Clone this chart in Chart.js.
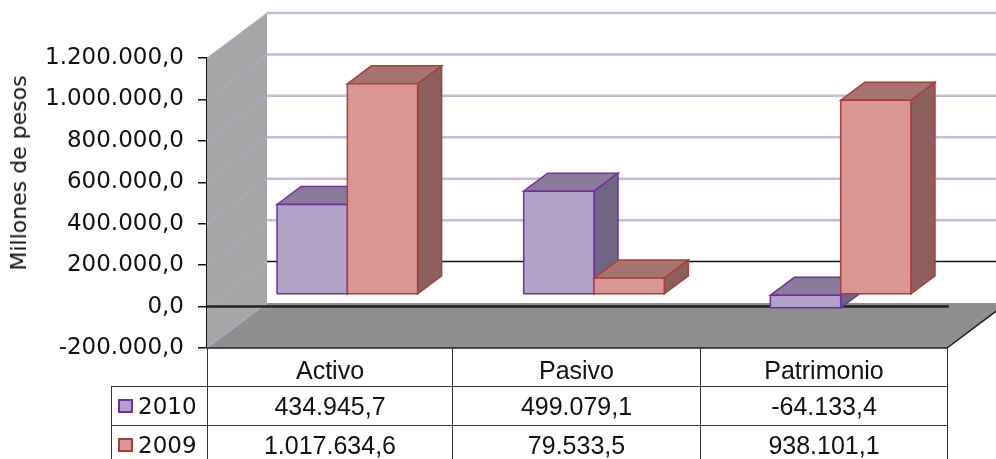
<!DOCTYPE html>
<html>
<head>
<meta charset="utf-8">
<script src="https://cdn.jsdelivr.net/npm/chart.js@4.4.1/dist/chart.umd.min.js"></script>
<style>
  body { margin: 0; background: #fff; }
  #wrap { position: relative; width: 996px; height: 459px; overflow: hidden; }
  #ytitle {
    position: absolute; left: 19px; top: 173px;
    transform: translate(-50%, -50%) rotate(-90deg);
    font: 22px "DejaVu Sans", sans-serif; color: #111; white-space: nowrap; line-height: 22px;
  }
  #tbl {
    position: absolute; left: 111px; top: 348px;
    border-collapse: collapse; table-layout: fixed;
    font: 25px "Liberation Sans", Arial, sans-serif; color: #111;
  }
  #tbl td { border: 1.5px solid #333; height: 38px; padding: 0; text-align: center; }
  #tbl tr.head td { border-top: none; height: 32px; padding-top: 6px; }
  #tbl tr.head td.blank { border: none; border-bottom: 1.5px solid #333; }
  #tbl td.key { text-align: left; padding-left: 6px; font: 23px "DejaVu Sans", sans-serif; }
  .sw { display: inline-block; width: 11px; height: 10px; border: 2px solid; margin-right: 5px; vertical-align: 1px; }
</style>
</head>
<body>
<div id="wrap">
  <canvas id="chart"></canvas>
  <div id="ytitle">Millones de pesos</div>
  <table id="tbl">
    <colgroup><col style="width:96px"><col style="width:245px"><col style="width:248px"><col style="width:247px"></colgroup>
    <tbody id="tbody"></tbody>
  </table>
</div>
<script>
const categories = ["Activo", "Pasivo", "Patrimonio"];
const years = ["2010", "2009"];
const values2010 = [434945.7, 499079.1, -64133.4];
const values2009 = [1017634.6, 79533.5, 938101.1];
const yMin = -200000, yMax = 1200000, yStep = 200000;

const faces = [
  { front: "#b3a2c7", top: "#8a7b9b", side: "#6f6482", line: "#7030a0" },
  { front: "#d99694", top: "#a6736f", side: "#8c5f5d", line: "#a5403d" }
];

// wall depth, bar position inside the box, bar depth
const WX = 60, WY = -45;
const BX = 17, BY = -12;
const DX = 24, DY = -18;

function fmt(v){
  const parts = Math.abs(v).toFixed(1).split(".");
  const ints = parts[0].replace(/\B(?=(\d{3})+(?!\d))/g, ".");
  return (v < 0 ? "-" : "") + ints + "," + parts[1];
}

function poly(ctx, pts, fill, stroke){
  ctx.beginPath();
  ctx.moveTo(pts[0][0], pts[0][1]);
  for(let i = 1; i < pts.length; i++) ctx.lineTo(pts[i][0], pts[i][1]);
  ctx.closePath();
  ctx.fillStyle = fill;
  ctx.fill();
  if(stroke){
    ctx.strokeStyle = stroke;
    ctx.lineWidth = 1.5;
    ctx.stroke();
  }
}

const box3d = {
  id: "box3d",
  beforeDatasetsDraw(chart){
    const ctx = chart.ctx;
    const a = chart.chartArea;
    const y = chart.scales.y;
    const L = a.left, R = a.right, T = a.top, B = a.bottom;
    ctx.save();
    // side wall and floor
    poly(ctx, [[L, T], [L + WX, T + WY], [L + WX, B + WY], [L, B]], "#a6a6a6");
    poly(ctx, [[L, B], [R, B], [R + WX, B + WY], [L + WX, B + WY]], "#8f8f8f");

    // grid on side wall and back wall
    y.ticks.forEach(t => {
      const yy = y.getPixelForValue(t.value);
      ctx.lineWidth = 1;
      ctx.strokeStyle = "rgba(185,165,225,0.85)";
      ctx.beginPath();
      ctx.moveTo(L, yy);
      ctx.lineTo(L + WX, yy + WY);
      ctx.stroke();
      if(t.value == yMin) return;
      ctx.lineWidth = t.value == 0 ? 1.5 : 2.5;
      ctx.strokeStyle = t.value == 0 ? "#111" : "#c6b9dd";
      ctx.beginPath();
      ctx.moveTo(L + WX, yy + WY);
      ctx.lineTo(R + WX, yy + WY);
      ctx.stroke();
    });

    // floor edges
    ctx.strokeStyle = "#222";
    ctx.lineWidth = 1.5;
    ctx.beginPath();
    ctx.moveTo(L, B);
    ctx.lineTo(R, B);
    ctx.lineTo(R + WX, B + WY);
    ctx.stroke();

    // front zero line
    const y0 = y.getPixelForValue(0);
    ctx.lineWidth = 2.5;
    ctx.beginPath();
    ctx.moveTo(L, y0);
    ctx.lineTo(R + 2, y0);
    ctx.stroke();
    ctx.restore();
  },
  afterDatasetsDraw(chart){
    const ctx = chart.ctx;
    ctx.save();
    for(let j = 0; j < categories.length; j++){
      for(let i = 0; i < chart.data.datasets.length; i++){
        const bar = chart.getDatasetMeta(i).data[j];
        const p = bar.getProps(["x", "y", "base", "width"], true);
        const c = faces[i];
        const l = p.x - p.width / 2 + BX, r = p.x + p.width / 2 + BX;
        const t = Math.min(p.y, p.base) + BY, b = Math.max(p.y, p.base) + BY;
        poly(ctx, [[l, t], [l + DX, t + DY], [r + DX, t + DY], [r, t]], c.top, c.line);
        poly(ctx, [[r, t], [r + DX, t + DY], [r + DX, b + DY], [r, b]], c.side, c.line);
        poly(ctx, [[l, t], [r, t], [r, b], [l, b]], c.front, c.line);
      }
    }
    ctx.restore();
  }
};

new Chart(document.getElementById("chart"), {
  type: "bar",
  data: {
    labels: categories,
    datasets: [
      { label: years[0], data: values2010, backgroundColor: "rgba(0,0,0,0)", borderWidth: 0 },
      { label: years[1], data: values2009, backgroundColor: "rgba(0,0,0,0)", borderWidth: 0 }
    ]
  },
  options: {
    responsive: true,
    maintainAspectRatio: false,
    animation: false,
    layout: { padding: { top: 58, right: 49, bottom: 111, left: 0 } },
    datasets: { bar: { categoryPercentage: 0.57, barPercentage: 1 } },
    scales: {
      x: { display: false },
      y: {
        min: yMin, max: yMax,
        afterFit: s => { s.width = 207; },
        border: { color: "#111", width: 1.5 },
        grid: { drawOnChartArea: false, tickLength: 9, color: "#111", lineWidth: 1.5 },
        ticks: {
          stepSize: yStep, padding: 14, color: "#111",
          font: { family: "'DejaVu Sans'", size: 23 },
          callback: v => fmt(v)
        }
      }
    },
    plugins: { legend: { display: false }, tooltip: { enabled: false } }
  },
  plugins: [box3d]
});

// data table under the plot
const tbody = document.getElementById("tbody");
let html = '<tr class="head"><td class="blank"></td>' + categories.map(c => "<td>" + c + "</td>").join("") + "</tr>";
[values2010, values2009].forEach((vals, i) => {
  html += '<tr><td class="key"><span class="sw" style="background:' + faces[i].front + ";border-color:" + faces[i].line + '"></span>' + years[i] + "</td>";
  html += vals.map(v => "<td>" + fmt(v) + "</td>").join("") + "</tr>";
});
tbody.innerHTML = html;
</script>
</body>
</html>
